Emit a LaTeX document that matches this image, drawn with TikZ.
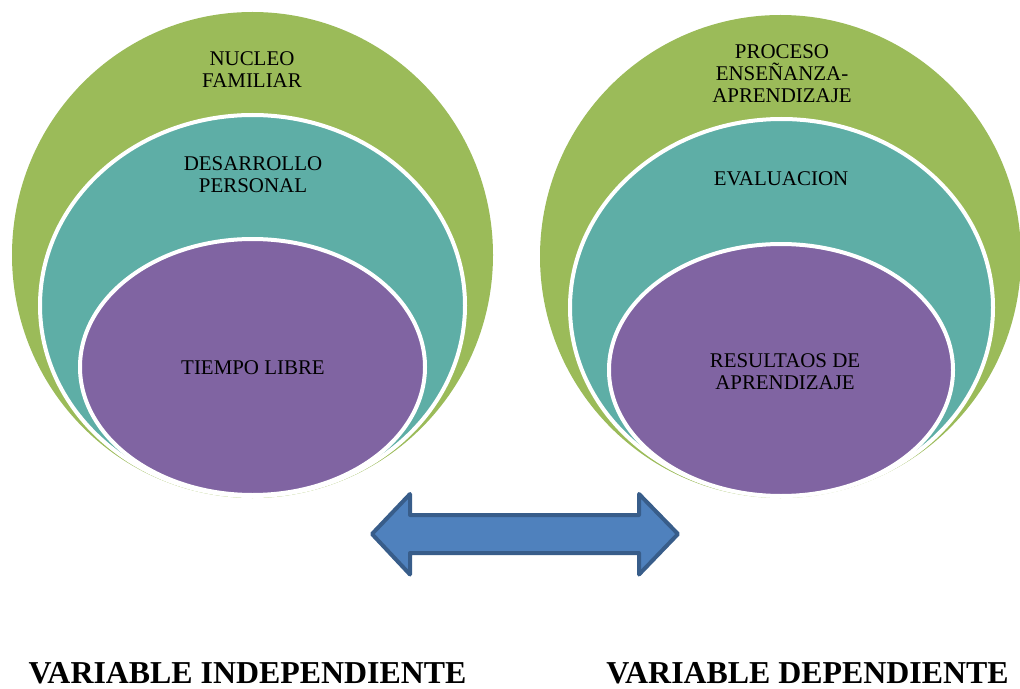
\documentclass[tikz,border=0pt]{standalone}
\usepackage{fontspec}
\setmainfont{Liberation Serif}
\definecolor{verde}{RGB}{155,187,89}
\definecolor{aqua}{RGB}{94,174,166}
\definecolor{morado}{RGB}{128,100,162}
\definecolor{azul}{RGB}{79,129,189}
\definecolor{azulborde}{RGB}{56,93,138}
\begin{document}
\begin{tikzpicture}[x=1bp,y=-1bp,
		capa/.style={draw=white,line width=4bp},
		texto/.style={align=center,inner sep=0pt,font=\fontsize{21}{22}\selectfont},
		titulo/.style={inner sep=0pt,anchor=base,font=\fontsize{32}{32}\selectfont\bfseries}]
		\useasboundingbox (0,0) rectangle (1020,689);
		\fill[verde] (252.5,255) ellipse[x radius=240.5,y radius=243];
		\draw[capa,fill=aqua] (252.5,305.5) ellipse[x radius=212.5,y radius=190.5];
		\draw[capa,fill=morado] (252.5,367) ellipse[x radius=172.5,y radius=128];
		\fill[verde] (780.5,256.5) ellipse[x radius=240.5,y radius=241.5];
		\draw[capa,fill=aqua] (781.5,307.5) ellipse[x radius=211.5,y radius=188.5];
		\draw[capa,fill=morado] (781,370) ellipse[x radius=172,y radius=126];
		\node[name=nucleo,texto] at (252,70){NUCLEO\\FAMILIAR};
		\node[name=desarrollo,texto] at (253,175){DESARROLLO\\PERSONAL};
		\node[name=tiempo,texto] at (253,368){TIEMPO LIBRE};
		\node[name=proceso,texto] at (782,74){PROCESO\\ENSEÑANZA-\\APRENDIZAJE};
		\node[name=evaluacion,texto] at (781,179){EVALUACION};
		\node[name=resultados,texto] at (785,372){RESULTAOS DE\\APRENDIZAJE};
		\draw[fill=azul,draw=azulborde,line width=4bp,line join=round] (372,534)--(410,494)--(410,515)--(639,515)--(639,494)--(678,534)--(639,574.5)--(639,553)--(410,553)--(410,574.5)--cycle;
		\node[name=vi,titulo] at (247.5,683){VARIABLE INDEPENDIENTE};
		\node[name=vd,titulo] at (807.5,683){VARIABLE DEPENDIENTE};
	\end{tikzpicture}
\end{document}
